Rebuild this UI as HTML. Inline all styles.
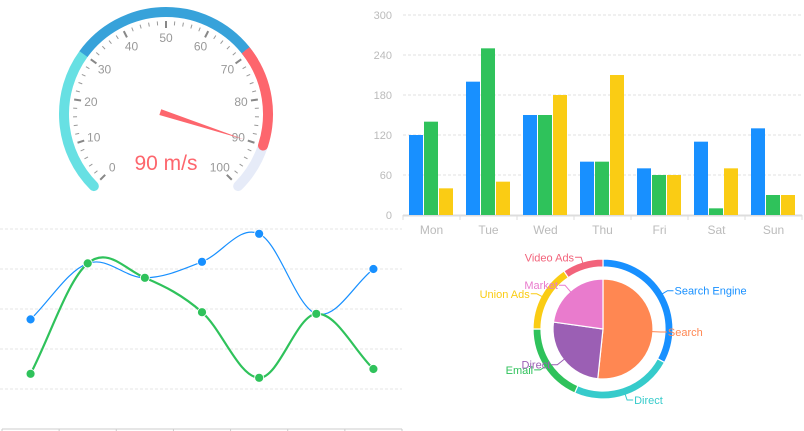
<!DOCTYPE html>
<html><head><meta charset="utf-8"><style>
html,body{margin:0;padding:0;background:#fff;width:804px;height:431px;overflow:hidden}
svg{display:block;font-family:"Liberation Sans",sans-serif}
</style></head><body>
<svg id="s" width="804" height="431" viewBox="0 0 804 431">
<g id="gauge"></g>
<g id="bar"></g>
<g id="line"></g>
<g id="pie"></g>
</svg>
<script>
// ---- data ----
const gaugeValue = 90;
const gaugeMax = 100;
const barCategories = ['Mon','Tue','Wed','Thu','Fri','Sat','Sun'];
const barSeriesA = [120,200,150,80,70,110,130];
const barSeriesB = [140,250,150,80,60,10,30];
const barSeriesC = [40,50,180,210,60,70,30];
const barTicks = [0,60,120,180,240,300];
const lineSeriesA = [137,207,189,209,244,144,200];
const lineSeriesB = [69,207,189,146,64,144,75];
const innerLabels = ['Search','Direct','Market'];
const innerValues = [186,92,82];
const outerLabels = ['Search Engine','Direct','Email','Union Ads','Video Ads'];
const outerValues = [118.6,85.3,66.1,56,34];

const NS='http://www.w3.org/2000/svg';
function mk(parent,tag,attrs,text){const e=document.createElementNS(NS,tag);for(const k in attrs)e.setAttribute(k,attrs[k]);if(text!==undefined)e.textContent=text;parent.appendChild(e);return e;}

// ---- gauge ----
(function(){
const g=document.getElementById('gauge');
const cx=166,cy=114,R=102;
const ang=v=>(225-270*v/gaugeMax)*Math.PI/180;
const pt=(v,r)=>[cx+r*Math.cos(ang(v)),cy-r*Math.sin(ang(v))];
function arc(v0,v1,col,cap){const a=pt(v0,R),b=pt(v1,R);const large=(v1-v0)/gaugeMax*270>180?1:0;
 const p=mk(g,'path',{d:`M${a[0]},${a[1]} A${R},${R} 0 ${large} 1 ${b[0]},${b[1]}`,fill:'none',stroke:col,'stroke-width':10,'stroke-linecap':cap});return p;}
let p;
p=arc(90,100,'#e6ebf8','round');
p=arc(0,30,'#67e0e3','round');
p=arc(30,70,'#37a2da','butt');
p=arc(70,90,'#fd666d','round');
p=arc(69,72,'#fd666d','butt');
for(let i=0;i<=50;i++){const v=i*2;const big=i%5==0;const a=pt(v,big?86:89),b=pt(v,93);
 const t=mk(g,'line',{x1:a[0],y1:a[1],x2:b[0],y2:b[1],stroke:big?'#888':'#999','stroke-width':big?2:1});
 }
for(let v=0;v<=100;v+=10){const a=pt(v,76);const t=mk(g,'text',{x:a[0],y:a[1]+4,'text-anchor':'middle','font-size':12,fill:'#999'},String(v));
 }
const tip=pt(gaugeValue,82);const a0=ang(gaugeValue);
const bx=cx-6*Math.cos(a0),by=cy+6*Math.sin(a0);
const nx=Math.sin(a0)*3,ny=Math.cos(a0)*3;
const n=mk(g,'polygon',{points:`${tip[0]},${tip[1]} ${bx+nx},${by+ny} ${bx-nx},${by-ny}`,fill:'#fd666d'});

const d=mk(g,'text',{x:cx,y:170,'text-anchor':'middle','font-size':21,fill:'#fd666d'},gaugeValue+' m/s');

})();

// ---- bar chart ----
(function(){
const g=document.getElementById('bar');
const x0=403,x1=802,y0=215,h=200,max=300;
const cw=(x1-x0)/barCategories.length;
const yv=v=>y0-v/max*h;
barTicks.forEach(t=>{const y=yv(t);
 if(t>0){const l=mk(g,'line',{x1:x0,x2:x1,y1:y,y2:y,stroke:'#e0e0e0','stroke-dasharray':'3,2'});}
 const tx=mk(g,'text',{x:392,y:y+4,'text-anchor':'end','font-size':11,fill:'#bbb'},String(t));});
const ax=mk(g,'line',{x1:x0,x2:x1,y1:y0+0.5,y2:y0+0.5,stroke:'#ddd','stroke-width':2});
const series=[[barSeriesA,'#1890ff'],[barSeriesB,'#2fc25b'],[barSeriesC,'#facc14']];
barCategories.forEach((c,i)=>{
 const tk=mk(g,'line',{x1:x0+i*cw,x2:x0+i*cw,y1:y0,y2:y0+5,stroke:'#ddd'});
 series.forEach((s,j)=>{const v=s[0][i];const r=mk(g,'rect',{x:x0+i*cw+6+j*15,y:yv(v),width:14,height:y0-yv(v),fill:s[1]});
  });
 const t=mk(g,'text',{x:x0+(i+0.5)*cw,y:234,'text-anchor':'middle','font-size':12,fill:'#bbb'},c);
});
const tk=mk(g,'line',{x1:x1,x2:x1,y1:y0,y2:y0+5,stroke:'#ddd'});
})();

// ---- line chart ----
(function(){
const g=document.getElementById('line');
const x0=2,x1=402,y0=429,h=200,max=250;
const cw=(x1-x0)/lineSeriesA.length;
const xv=i=>x0+(i+0.5)*cw, yv=v=>y0-v/max*h;
for(let t=50;t<=250;t+=50){const l=mk(g,'line',{x1:0,x2:x1,y1:yv(t),y2:yv(t),stroke:'#e6e6e6','stroke-dasharray':'3,2'});}
const ax=mk(g,'line',{x1:x0,x2:x1,y1:y0,y2:y0,stroke:'#ccc'});
for(let i=0;i<=lineSeriesA.length;i++){const t=mk(g,'line',{x1:x0+i*cw,x2:x0+i*cw,y1:y0,y2:y0+3,stroke:'#ccc'});}
function smooth(pts){let d=`M${pts[0][0]},${pts[0][1]}`;const k=0.35;
 for(let i=0;i<pts.length-1;i++){const p0=pts[i-1]||pts[i],p1=pts[i],p2=pts[i+1],p3=pts[i+2]||p2;
  const c1=[p1[0]+(p2[0]-p0[0])*k/2*(p0===p1?2:1),p1[1]+(p2[1]-p0[1])*k/2*(p0===p1?2:1)];
  const c2=[p2[0]-(p3[0]-p1[0])*k/2*(p3===p2?2:1),p2[1]-(p3[1]-p1[1])*k/2*(p3===p2?2:1)];
  d+=` C${c1[0]},${c1[1]} ${c2[0]},${c2[1]} ${p2[0]},${p2[1]}`;}return d;}
[[lineSeriesA,'#1890ff',1.2,'a'],[lineSeriesB,'#2fc25b',2.2,'b']].forEach(s=>{
 const pts=s[0].map((v,i)=>[xv(i),yv(v)]);
 const p=mk(g,'path',{d:smooth(pts),fill:'none',stroke:s[1],'stroke-width':s[2]});
});
[[lineSeriesA,'#1890ff','a'],[lineSeriesB,'#2fc25b','b']].forEach(s=>{
 s[0].forEach((v,i)=>{const c=mk(g,'circle',{cx:xv(i),cy:yv(v),r:4.5,fill:s[1],stroke:'#fff','stroke-width':0.8});});
});
})();

// ---- pie ----
(function(){
const g=document.getElementById('pie');
const cx=603,cy=329;
const pp=(a,r)=>[cx+r*Math.sin(a),cy-r*Math.cos(a)];
function sector(a0,a1,r0,r1,col){const A=pp(a0,r1),B=pp(a1,r1);const lg=(a1-a0)>Math.PI?1:0;
 if(r0==0)return `M${cx},${cy} L${A[0]},${A[1]} A${r1},${r1} 0 ${lg} 1 ${B[0]},${B[1]} Z`;
 const C=pp(a1,r0),D=pp(a0,r0);return `M${A[0]},${A[1]} A${r1},${r1} 0 ${lg} 1 ${B[0]},${B[1]} L${C[0]},${C[1]} A${r0},${r0} 0 ${lg} 0 ${D[0]},${D[1]} Z`;}
function draw(labels,values,cols,r0,r1,lr,name){
 const tot=values.reduce((a,b)=>a+b,0);let a=0;
 labels.forEach((l,i)=>{const da=values[i]/tot*2*Math.PI;
  const p=mk(g,'path',{d:sector(a,a+da,r0,r1,cols[i]),fill:cols[i],stroke:'#fff','stroke-width':1.2});
  
  const m=a+da/2;const s=pp(m,r1-1),e=pp(m,r1+lr);const right=Math.sin(m)>=0;const ex=e[0]+(right?6:-6);
  const ln=mk(g,'polyline',{points:`${s[0]},${s[1]} ${e[0]},${e[1]} ${ex},${e[1]}`,fill:'none',stroke:cols[i],'stroke-width':1});
  
  const t=mk(g,'text',{x:ex+(right?1:-1),y:e[1]+4,'text-anchor':right?'start':'end','font-size':11,fill:cols[i]},l);
  
  a+=da;});
}
draw(outerLabels,outerValues,['#1890ff','#36cbcb','#2fc25b','#facc14','#f2637b'],62,70,5,'outer');
draw(innerLabels,innerValues,['#ff8752','#9b5fb4','#e97bcd'],0,50,8,'inner');
})();
</script>
</body></html>
